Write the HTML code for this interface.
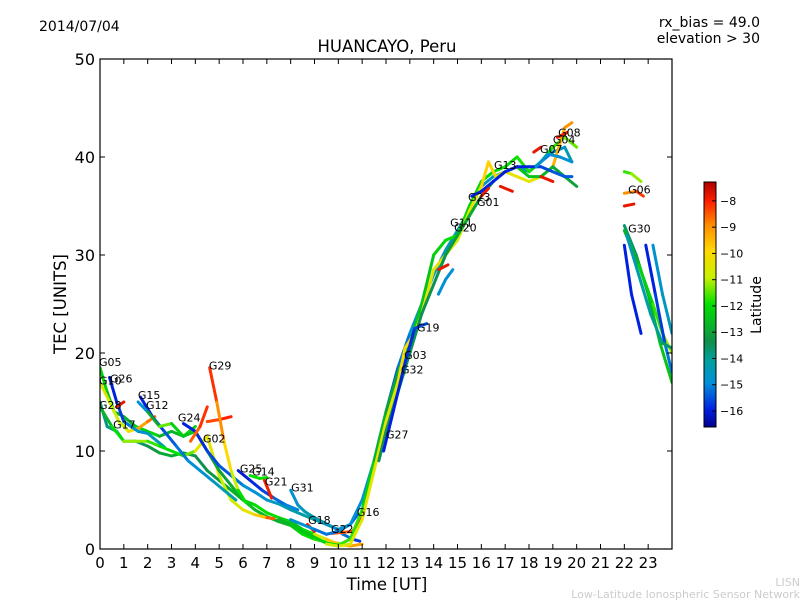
<!DOCTYPE html>
<html><head><meta charset="utf-8"><style>
body{margin:0;background:#fff;}
svg text{font-family:"DejaVu Sans","Liberation Sans",sans-serif;}
</style></head><body>
<svg id="chart" width="800" height="600" viewBox="0 0 800 600" xmlns="http://www.w3.org/2000/svg">
<defs>
<linearGradient id="cbg" x1="0" y1="1" x2="0" y2="0">
<stop offset="0" stop-color="#00008f"/><stop offset="0.07" stop-color="#0020e0"/><stop offset="0.18" stop-color="#0090d8"/><stop offset="0.27" stop-color="#00a0a0"/><stop offset="0.35" stop-color="#10904a"/><stop offset="0.50" stop-color="#00e000"/><stop offset="0.61" stop-color="#c8f000"/><stop offset="0.72" stop-color="#ffd800"/><stop offset="0.82" stop-color="#ff9000"/><stop offset="0.92" stop-color="#ff2000"/><stop offset="1" stop-color="#b00000"/>
</linearGradient>
<clipPath id="pc"><rect x="100" y="59" width="572" height="490"/></clipPath>
</defs>
<rect width="800" height="600" fill="#fff"/>
<text x="39" y="31" font-size="14">2014/07/04</text>
<text x="387" y="52" font-size="16.5" text-anchor="middle">HUANCAYO, Peru</text>
<text x="760" y="27" font-size="14" text-anchor="end">rx_bias = 49.0</text>
<text x="760" y="43" font-size="14" text-anchor="end">elevation &gt; 30</text>
<g id="marks" clip-path="url(#pc)"></g>
<g id="labels"></g>
<rect x="100" y="59" width="572" height="490" fill="none" stroke="#000" stroke-width="1.2"/>
<g id="axes"></g>
<text x="387" y="590" font-size="16.5" text-anchor="middle">Time [UT]</text>
<text transform="translate(66,304) rotate(-90)" font-size="16.5" text-anchor="middle">TEC [UNITS]</text>
<rect x="704" y="182" width="12" height="245" fill="url(#cbg)" stroke="#000" stroke-width="1"/>
<g id="cbticks"></g>
<text transform="translate(761,305) rotate(-90)" font-size="14" text-anchor="middle">Latitude</text>
<text x="800" y="586" font-size="11" fill="#ccc" text-anchor="end">LISN</text>
<text x="800" y="598" font-size="11" fill="#ccc" text-anchor="end">Low-Latitude Ionospheric Sensor Network</text>
</svg>
<script>
const xTicks=[0,1,2,3,4,5,6,7,8,9,10,11,12,13,14,15,16,17,18,19,20,21,22,23];
const yTicks=[0,10,20,30,40,50];
const cbTicks=[-8,-9,-10,-11,-12,-13,-14,-15,-16];
const trackTimes=[
[0,0.3,0.6,1,1.5,2,2.5,3,3.5,4],
[0,0.4,0.8,1.2,1.6,2,2.3],
[0.4,0.7,1,1.3,1.6,2,2.4,2.7],
[0,0.3,0.7,1,1.5,2,2.5,3,3.5,4,4.5,5,5.5,6,6.5,7,7.5,8,8.5,9,9.5,10],
[0,0.5,1,1.5,2,2.5,3,3.5,4,4.5,5,5.5,6,6.5,7,7.3],
[0.7,1],
[1.7,2.2,2.7,3.2,3.7,4.2,4.7,5.2,5.7],
[1.6,2,2.5,3,3.5,4,4.5,5,5.5,6,6.5,7,7.5,8,8.5,9,9.5,10,10.5,11],
[3.5,4,4.5,5,5.5,6,6.5,7,7.5,8,8.5,9,9.5,10,10.5,10.8],
[3.8,4.2,4.5],
[4.5,5,5.5],
[4.6,4.9,5.2,5.5,5.8,6.1],
[5.8,6.3,6.8,7.3,7.8,8.3],
[6.3,6.7,7],
[6.9,7.2],
[8,8.3,8.6,9,9.4,9.8,10.2,10.6,10.9],
[8.7,9],
[9.7,10.2,10.6,11],
[8,8.5,9,9.5,10,10.5,11,11.5,12,12.5,13,13.5,14,14.5,15,15.5,16,16.5,17,17.5,18,18.5,19,19.5,19.8],
[7.5,8,8.5,9,9.5,10,10.5,11,11.5,12,12.5,13,13.5,14,14.5,15,15.5,16,16.5,17,17.5,18,18.5,19,19.5,20],
[9.5,10,10.5,11,11.5,12,12.5,12.8,13.2,13.5,14,14.5,15,15.5,16,16.3,16.6,17,17.5,18,18.5,19,19.5,19.8],
[11.7,12,12.5,13,13.5,14,14.5,15,15.5,16,16.5,17,17.5,18,18.5,19,19.5,20],
[11.9,12.3,12.8,13.2,13.7],
[15.6,16,16.5,17,17.5,18,18.5,19,19.5,19.8],
[14.2,14.5,14.8],
[14.2,14.6],
[16,16.3],
[16.8,17.3],
[18.3,18.8,19.3,19.8],
[18.5,19],
[18.2,18.5],
[19.2,19.6],
[22,22.3,22.7],
[22,22.5,22.8],
[22,22.4],
[22,22.5,23,23.5,24],
[22,22.6,23.2,23.6,24],
[22,22.3,22.7],
[22.9,23.3,23.7,24],
[23.2,23.6,24],
[22.1,22.6,23.1,23.6,24]
];
const trackTec=[
[18.5,16,14,13.5,12.5,12,11.5,12,11.5,12.5],
[17,15,13,12,12.3,13,13.5],
[17.5,15,13,12.5,12,11.8,11,10.4],
[15,12.5,12,11,11,10.5,9.8,9.5,9.8,9.5,8,7,6,5,4,3.3,2.8,2.4,1.5,1,0.7,0.6],
[14.5,12.5,11,11,11,10.5,10,9.5,10,11.5,7.5,5,4,3.5,3.2,3.1],
[14.5,15],
[15.5,13.5,12,10.5,9,8,7,6,5],
[15,14,12.5,12.8,11.5,12,10,8,6.5,5,4.5,3.7,3.2,2.8,2,1.5,1,0.5,0.3,0.5],
[12.8,12,10,8.5,7.5,6.5,5.8,5,4.6,4,3.5,3,2.5,2,2.5,3.5],
[11,12.5,14.5],
[13,13.2,13.5],
[18.5,15,11,8,6,4.8],
[8,7,6,5.2,4.5,4],
[7.5,7.2,7.3],
[7,5.2],
[6,4.5,3.8,3.2,2.7,2.2,1.5,1,0.8],
[2.5,1.8],
[1.6,1.7,1.8,3.2],
[3,2.5,2,1.5,1.8,2.5,5,9,14,18.5,22,25,28,30.5,32.5,34.5,37,38,38.5,39,38.5,39.5,40.5,41,39.5],
[3,2.5,1.8,1.2,0.6,0.4,1,4,9,14,18,21,25,30,31.5,32,35,37.5,38.5,39,40,38.5,39.5,41,42,41],
[0.5,0.3,0.5,3,8,13,17,20.5,22,24,28.5,30,31.5,34.5,37,39.5,38,38.5,38,37.5,38,39,43,43.5],
[9,12,16,20,24,27,30,32,34,36,37.5,38.5,39,38,38,39,38,37],
[10,14,19,22.5,23],
[36,36.5,37.5,38.5,39,39,39,38.5,38,38],
[26,27.5,28.5],
[28.5,29],
[36,36.8],
[37,36.5],
[39,40.3,40,39.5],
[38,37.5],
[40.5,41],
[42,42.5],
[38.5,38.3,37.5],
[36.3,36.5,36],
[35,35.2],
[33,30,26,21,17],
[32.5,29,25,22,20],
[31,26,22],
[31,26,21,18],
[31,26,22],
[32,28,24,21,20.5]
];
const trackLat=[
[-12,-12.5,-13,-13,-12.5,-12,-12.5,-13,-12.5,-12],
[-10.5,-11,-11,-11,-9.5,-9,-8.5],
[-16,-16,-15.5,-15,-15,-14.8,-14.5,-14.5],
[-14,-14,-14,-14.2,-14,-13.5,-13,-13,-13,-13.5,-13.5,-13,-13,-12.5,-12.5,-13,-13,-12.5,-12,-12,-11.5,-11],
[-13,-12.5,-11.5,-11,-11.5,-12,-12,-12,-11,-10,-11,-11,-10.5,-10.5,-9,-8],
[-7.8,-7.8],
[-16,-16,-15.5,-15.5,-15,-15,-14.8,-14.5,-14.3],
[-15,-15,-11,-12,-12.5,-12.5,-13,-13,-13.2,-12.5,-12,-12,-12,-12.5,-12.5,-11.5,-10,-9.5,-9.5,-9],
[-16,-16,-15.8,-15.5,-15.5,-15,-15,-14.8,-14.5,-14.5,-14.5,-14.2,-14.5,-14.5,-15,-16],
[-8.8,-8.3,-8],
[-8.5,-8.2,-7.8],
[-7.8,-8.5,-9.5,-10.5,-11.5,-12.5],
[-16.2,-16,-15.8,-15.5,-15.2,-15],
[-12,-12,-12],
[-7.8,-8],
[-15,-14.8,-14.5,-14.5,-14.5,-15,-15,-15.5,-16],
[-7.8,-8],
[-7.8,-9,-8,-7.8],
[-15,-15,-15,-15.5,-15,-15,-15,-15,-15.5,-15.5,-15,-15,-14.8,-14.5,-14.5,-15,-15,-14.5,-14.5,-14.5,-15,-15.5,-15,-14.5,-14.5],
[-13,-12.5,-12.5,-12.5,-12,-12,-11.5,-12,-12.5,-13,-13,-12.5,-12.5,-12.5,-12,-12,-12.5,-12,-12,-12,-12,-11.8,-12,-12,-11.5,-11.5],
[-11,-10.8,-10.8,-10.5,-10.5,-10.5,-10.5,-10,-10,-10.5,-10.5,-10.5,-11,-11,-10,-9.8,-10,-10.5,-10.5,-10.5,-10.5,-10,-9,-9],
[-13.5,-13.5,-13.5,-13.5,-13.5,-13.5,-13.5,-13,-13,-13,-13,-12.8,-12.5,-12.5,-12.5,-13,-13,-13.2],
[-16,-16,-16,-15.8,-15.5],
[-16,-16,-16,-16,-16,-16,-15.8,-15.5,-15.5,-15.5],
[-15,-15,-15],
[-7.8,-7.8],
[-7.8,-7.8],
[-7.8,-7.8],
[-15,-15,-15,-15],
[-7.8,-7.8],
[-7.8,-7.8],
[-7.8,-8],
[-12,-11.5,-11],
[-9.5,-8.5,-8],
[-7.8,-7.8],
[-14,-13.5,-13,-12.5,-12.5],
[-13,-12.5,-12,-11.5,-11],
[-16,-16,-16],
[-16,-16,-15.5,-15],
[-15,-14.8,-14.5],
[-14.5,-14.5,-14.3,-14,-13.5]
];
const labelNames=["G05","G10","G26","G28","G17","G15","G12","G24","G02","G29","G25","G14","G21","G31","G18","G22","G16","G27","G32","G03","G19","G11","G20","G23","G01","G13","G07","G04","G08","G06","G30"];
const labelT=[-0.04,-0.04,0.42,-0.04,0.55,1.59,1.93,3.27,4.32,4.57,5.87,6.38,6.92,8.02,8.73,9.69,10.78,12.0,12.63,12.76,13.3,14.69,14.86,15.44,15.82,16.53,18.46,19.0,19.22,22.16,22.16];
const labelV=[19.1,17.2,17.4,14.7,12.7,15.7,14.7,13.4,11.3,18.7,8.2,7.9,6.9,6.3,2.96,2.04,3.78,11.7,18.3,19.8,22.6,33.3,32.8,35.9,35.4,39.2,40.8,41.8,42.5,36.7,32.7];

const X0=100,X1=672,Y0=549,Y1=59;
function xs(t){return X0+(t/24)*(X1-X0);}
function ys(v){return Y0-(v/50)*(Y0-Y1);}
const cStops=[[-16.6,[0,0,143]],[-16,[0,32,224]],[-15,[0,144,216]],[-14.3,[0,160,160]],[-13.4,[16,144,74]],[-12,[0,224,0]],[-11,[200,240,0]],[-10,[255,216,0]],[-9,[255,144,0]],[-8,[255,32,0]],[-7.3,[176,0,0]]];
function cmap(l){
  if(l<=cStops[0][0])return 'rgb('+cStops[0][1]+')';
  for(let i=1;i<cStops.length;i++){
    if(l<=cStops[i][0]){const a=cStops[i-1],b=cStops[i];const f=(l-a[0])/(b[0]-a[0]);
      const c=a[1].map((v,k)=>Math.round(v+(b[1][k]-v)*f));return 'rgb('+c+')';}
  }
  return 'rgb('+cStops[cStops.length-1][1]+')';
}
const NS='http://www.w3.org/2000/svg';
const marks=document.getElementById('marks');
trackTimes.forEach((tt,i)=>{
  const g=document.createElementNS(NS,'g');
  
  
  for(let j=0;j<tt.length-1;j++){
    const ln=document.createElementNS(NS,'line');
    ln.setAttribute('x1',xs(tt[j]));ln.setAttribute('y1',ys(trackTec[i][j]));
    ln.setAttribute('x2',xs(tt[j+1]));ln.setAttribute('y2',ys(trackTec[i][j+1]));
    ln.setAttribute('stroke',cmap((trackLat[i][j]+trackLat[i][j+1])/2));
    ln.setAttribute('stroke-width','3');ln.setAttribute('stroke-linecap','round');
    
    
    g.appendChild(ln);
  }
  marks.appendChild(g);
});
const lab=document.getElementById('labels');
labelNames.forEach((n,i)=>{
  const t=document.createElementNS(NS,'text');
  t.setAttribute('x',xs(labelT[i]));t.setAttribute('y',ys(labelV[i])+4);
  t.setAttribute('font-size','11');t.textContent=n;
  
  
  lab.appendChild(t);
});
const ax=document.getElementById('axes');
function mk(tag,attrs,txt){const e=document.createElementNS(NS,tag);for(const k in attrs)e.setAttribute(k,attrs[k]);if(txt!==undefined)e.textContent=txt;return e;}
xTicks.forEach(t=>{
  const x=xs(t);
  const a=mk('line',{x1:x,y1:Y0,x2:x,y2:Y0-5,stroke:'#000'});
  
  
  ax.appendChild(a);
  const b=mk('line',{x1:x,y1:Y1,x2:x,y2:Y1+5,stroke:'#000'});
  
  
  ax.appendChild(b);
  const tx=mk('text',{x:x,y:568,'font-size':'15','text-anchor':'middle'},String(t));
  
  
  ax.appendChild(tx);
});
yTicks.forEach(v=>{
  const y=ys(v);
  const a=mk('line',{x1:X0,y1:y,x2:X0+5,y2:y,stroke:'#000'});
  
  
  ax.appendChild(a);
  const b=mk('line',{x1:X1,y1:y,x2:X1-5,y2:y,stroke:'#000'});
  
  
  ax.appendChild(b);
  const tx=mk('text',{x:95,y:y+6,'font-size':'16','text-anchor':'end'},String(v));
  
  
  ax.appendChild(tx);
});
const cb=document.getElementById('cbticks');
const cbTop=182,cbBot=427,cbMax=-7.28,cbMin=-16.61;
cbTicks.forEach(v=>{
  const y=cbBot-(v-cbMin)/(cbMax-cbMin)*(cbBot-cbTop);
  const a=mk('line',{x1:712,y1:y,x2:716,y2:y,stroke:'#000'});
  
  
  cb.appendChild(a);
  const tx=mk('text',{x:720,y:y+4,'font-size':'11'},'\u2212'+Math.abs(v));
  
  
  cb.appendChild(tx);
});
</script>
</body></html>
